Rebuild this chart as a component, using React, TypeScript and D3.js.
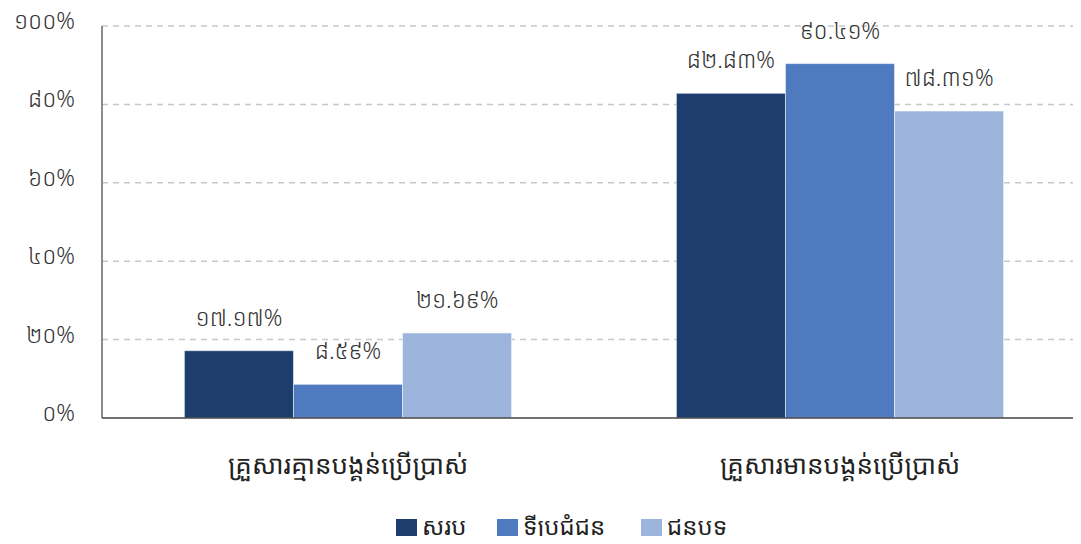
import React from 'react';
import * as d3 from 'd3';

const categories = ['គ្រួសារគ្មានបង្គន់ប្រើប្រាស់', 'គ្រួសារមានបង្គន់ប្រើប្រាស់'];
const seriesNames = ['សរុប', 'ទីប្រជុំជន', 'ជនបទ'];
const seriesColors = ['#1c3d6d', '#4f7abf', '#9db5dd'];
const totalValues = [17.17, 82.83];
const urbanValues = [8.59, 90.41];
const ruralValues = [21.69, 78.31];
const yTicks = [0, 20, 40, 60, 80, 100];

const khmerDigits = '០១២៣៤៥៦៧៨៩';
const toKhmer = (s: string) => s.replace(/[0-9]/g, d => khmerDigits[+d]);

const FONT = '"Noto Sans Khmer", "Khmer OS", "Khmer OS System", "Noto Sans", sans-serif';

export default function App() {
  const width = 1081;
  const height = 544;
  const left = 102;
  const right = 1086;
  const top = 26;
  const bottom = 418;

  const series = [totalValues, urbanValues, ruralValues];

  const x0 = d3.scaleBand<string>()
    .domain(categories)
    .range([left, right]);

  const groupW = x0.bandwidth() * 0.665;
  const x1 = d3.scaleBand<number>()
    .domain(d3.range(seriesNames.length))
    .range([0, groupW]);

  const y = d3.scaleLinear().domain([0, 100]).range([bottom, top]);

  return (
    <div style={{ margin: -8 }}>
      <svg width={width} height={height} style={{ display: 'block', fontFamily: FONT }}>
        <rect width={width} height={height} fill="#fff" />
        {yTicks.map(t => (
          <g key={t}>
            {t > 0 && (
              <line x1={left} x2={1078} y1={y(t)} y2={y(t)}
                stroke="#c8c8c8" strokeWidth={1.5} strokeDasharray="6,5" />
            )}
            <text x={75} y={y(t) - 5} dy="0.35em" textAnchor="end" fontSize={23}
              fontWeight={300} fill="#333">
              {toKhmer(String(t)) + '%'}
            </text>
          </g>
        ))}
        {categories.map((c, ci) => {
          const gx = (x0(c) as number) + (x0.bandwidth() - groupW) / 2;
          return (
            <g key={c}>
              {series.map((vals, si) => {
                const bx = gx + (x1(si) as number);
                const v = vals[ci];
                return (
                  <g key={si}>
                    <rect x={bx} y={y(v)} width={x1.bandwidth()} height={bottom - y(v)}
                      fill={seriesColors[si]} stroke="#ffffff" strokeOpacity={0.5} strokeWidth={1} />
                    <text x={bx + x1.bandwidth() / 2} y={y(v) - 25} textAnchor="middle"
                      fontSize={23} fontWeight={300} fill="#333">
                      {toKhmer(v.toFixed(2)) + '%'}
                    </text>
                  </g>
                );
              })}
              <text x={(x0(c) as number) + x0.bandwidth() / 2} y={465} dy="0.35em"
                textAnchor="middle" fontSize={26} fill="#222">{c}</text>
            </g>
          );
        })}
        <line x1={left} x2={left} y1={top} y2={bottom} stroke="#666" strokeWidth={1.5} />
        <line x1={left} x2={width} y1={bottom} y2={bottom} stroke="#444" strokeWidth={1.5} />
        {(() => {
          const items = [396, 497, 641];
          return seriesNames.map((n, i) => (
            <g key={n} transform={`translate(${items[i]},517)`}>
              <rect x={0} y={2} width={21} height={23} fill={seriesColors[i]} />
              <text x={26} y={10} dy="0.35em" fontSize={24} fill="#222">{n}</text>
            </g>
          ));
        })()}
      </svg>
    </div>
  );
}
